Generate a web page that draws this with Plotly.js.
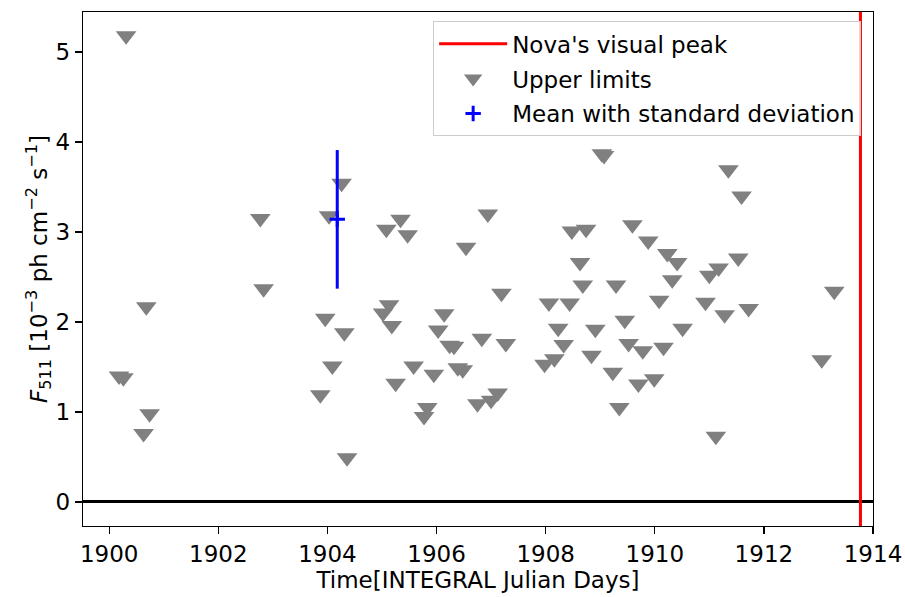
<!DOCTYPE html>
<html>
<head>
<meta charset="utf-8">
<script src="https://cdn.plot.ly/plotly-3.0.1.min.js"></script>
<style>html,body{margin:0;padding:0;background:#fff;}#chart{width:905px;height:597px;}</style>
</head>
<body>
<div id="chart"></div>
<script>
// Upper limits (INTEGRAL Julian days, 10^-3 ph cm^-2 s^-1)
const ulTime = [1900.18,1900.26,1900.31,1900.63,1900.68,1900.74,1902.77,1902.83,1903.87,1903.96,
  1904.03,1904.09,1904.26,1904.31,1904.36,1905.02,1905.08,1905.13,1905.18,1905.25,
  1905.34,1905.47,1905.58,1905.77,1905.83,1905.95,1906.03,1906.14,1906.24,1906.32,
  1906.39,1906.48,1906.54,1906.75,1906.83,1906.94,1907.00,1907.12,1907.19,1907.27,
  1907.98,1908.06,1908.16,1908.23,1908.33,1908.44,1908.48,1908.63,1908.68,1908.74,
  1908.84,1908.91,1909.03,1909.07,1909.23,1909.29,1909.35,1909.45,1909.52,1909.59,
  1909.70,1909.78,1909.88,1909.99,1910.08,1910.16,1910.23,1910.32,1910.41,1910.51,
  1910.93,1911.00,1911.12,1911.17,1911.28,1911.35,1911.53,1911.59,1911.72,1913.06,1913.29];
const ulFlux = [1.40,1.38,5.18,0.76,2.17,0.98,3.15,2.37,1.19,2.04,
  3.18,1.51,3.54,1.88,0.49,2.10,3.03,2.19,1.96,1.32,
  3.14,2.97,1.51,0.95,1.05,1.42,1.91,2.09,1.74,1.73,
  1.49,1.47,2.83,1.09,1.82,3.20,1.13,1.21,2.32,1.76,
  1.53,2.21,1.59,1.93,1.75,2.21,3.01,2.66,2.41,3.03,
  1.63,1.92,3.87,3.85,1.44,2.41,1.05,2.02,1.76,3.08,
  1.31,1.68,2.90,1.37,2.24,1.72,2.76,2.47,2.66,1.93,
  2.22,2.52,0.73,2.60,2.08,3.69,2.71,3.40,2.15,1.58,2.34];
// Mean with standard deviation
const meanTime = [1904.18];
const meanFlux = [3.14];
const meanStd = [0.77];
// Nova's visual peak
const peakTime = 1913.77;
const peakLineY = [-1, 7];
const xTickVals = [1900,1902,1904,1906,1908,1910,1912,1914];
const yTickVals = [0,1,2,3,4,5];

const font = {family: 'DejaVu Sans, sans-serif', size: 23, color: '#000'};

const traces = [
  {x: [peakTime, peakTime], y: peakLineY, mode: 'lines', name: "Nova's visual peak",
   line: {color: '#ff0000', width: 3}, legendgroup: 'a'},
  {x: ulTime, y: ulFlux, mode: 'markers', name: 'Upper limits',
   marker: {symbol: 'triangle-down', size: 18, color: '#808080', line: {width: 0}}, legendgroup: 'b'},
  {x: meanTime, y: meanFlux, mode: 'markers', name: 'Mean with standard deviation',
   error_y: {type: 'data', array: meanStd, visible: true, color: '#0000ff', thickness: 3, width: 0},
   marker: {symbol: 'cross-thin', size: 11, color: '#0000ff', line: {color: '#0000ff', width: 3}}, legendgroup: 'c'}
];

const layout = {
  width: 905, height: 597,
  margin: {l: 83, r: 31.5, t: 12, b: 71, pad: 0},
  paper_bgcolor: '#fff', plot_bgcolor: '#fff',
  font: font,
  showlegend: true,
  legend: {x: 0.985, y: 0.982, xanchor: 'right', yanchor: 'top',
    bgcolor: 'rgba(255,255,255,0.8)', bordercolor: '#cccccc', borderwidth: 1,
    font: font, tracegroupgap: 2, itemwidth: 68},
  xaxis: {range: [1899.52, 1914.0], tickvals: xTickVals, ticks: 'outside', ticklen: 7, tickwidth: 1.3,
    tickcolor: '#000', showline: true, linecolor: '#000', linewidth: 1.3, mirror: true,
    showgrid: false, zeroline: false, tickfont: font,
    title: {text: 'Time[INTEGRAL Julian Days]', font: font, standoff: 6}},
  yaxis: {range: [-0.267, 5.444], tickvals: yTickVals, ticks: 'outside', ticklen: 7, tickwidth: 1.3,
    tickcolor: '#000', showline: true, linecolor: '#000', linewidth: 1.3, mirror: true,
    showgrid: false, zeroline: true, zerolinecolor: '#000', zerolinewidth: 3, tickfont: font,
    title: {text: '<i>F</i><sub>511</sub> [10<sup>\u22123</sup> ph cm<sup>\u22122</sup> s<sup>\u22121</sup>]', font: font, standoff: 0}}
};

Plotly.newPlot('chart', traces, layout, {displayModeBar: false, staticPlot: true});
</script>
</body>
</html>
